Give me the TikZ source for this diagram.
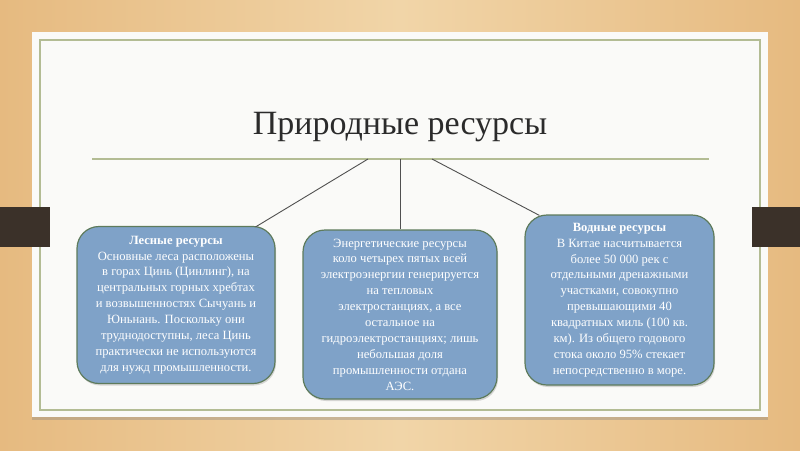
\documentclass[tikz,border=0pt]{standalone}
\usepackage{fontspec}
\setmainfont{Liberation Serif}
\usetikzlibrary{positioning, shadows}
\definecolor{Wood}{HTML}{E6BA80}
\definecolor{WoodLight}{HTML}{F1D5A8}
\definecolor{Paper}{HTML}{FAFAF8}
\definecolor{Olive}{HTML}{B3BC94}
\definecolor{Tab}{HTML}{3B3129}
\definecolor{Ink}{HTML}{2B2B2B}
\definecolor{BoxBlue}{HTML}{7FA2C8}
\definecolor{BoxEdge}{HTML}{5E7B5C}
\definecolor{Wire}{HTML}{505050}
\tikzset{
    resbox/.style={rectangle, rounded corners=22pt, fill=BoxBlue, draw=BoxEdge, line width=1.2pt, text=white, align=center, inner sep=0pt, font=\fontsize{12.6}{15.9}\selectfont, drop shadow={opacity=0.3, shadow xshift=1pt, shadow yshift=-2pt}},
    wire/.style={draw=Wire, line width=0.9pt},
    rule/.style={draw=Olive, line width=2pt},
}

\begin{document}
\begin{tikzpicture}[x=1pt, y=-1pt]
    % wooden table and sheet
    \shade[left color=Wood, right color=Wood, middle color=WoodLight] (0,0) rectangle (800,450);
    \fill[Paper, drop shadow={opacity=0.35, shadow xshift=0pt, shadow yshift=-3pt}] (32,32) rectangle (768,417);
    \draw[Olive, line width=1.5pt] (40,40) rectangle (760,410);
    \fill[Tab] (0,207) rectangle (50,247);
    \fill[Tab] (752,207) rectangle (800,247);

    \node[font=\fontsize{34}{34}\selectfont, text=Ink, anchor=base] (title) at (400,134) {Природные ресурсы};
    \coordinate (ruleL) at (92,159);
    \coordinate (ruleR) at (709,159);
    \draw[rule] (ruleL) -- (ruleR);
    \coordinate (hubL) at (368,159);
    \coordinate (hubM) at (400,159);
    \coordinate (hubR) at (432,159);

    \node[resbox, minimum width=198pt, minimum height=157pt] (forest) at (176,305)
        {\textbf{Лесные ресурсы}\\Основные леса расположены\\в горах Цинь (Цинлинг), на\\центральных горных хребтах\\и возвышенностях Сычуань и\\Юньнань. Поскольку они\\труднодоступны, леса Цинь\\практически не используются\\для нужд промышленности.};
    \node[resbox, minimum width=194pt, minimum height=169pt] (energy) at (400,314.5)
        {Энергетические ресурсы\\коло четырех пятых всей\\электроэнергии генерируется\\на тепловых\\электростанциях, а все\\остальное на\\гидроэлектростанциях; лишь\\небольшая доля\\промышленности отдана\\АЭС.};
    \node[resbox, minimum width=189pt, minimum height=170pt] (water) at (619.5,300)
        {\textbf{Водные ресурсы}\\В Китае насчитывается\\более 50 000 рек с\\отдельными дренажными\\участками, совокупно\\превышающими 40\\квадратных миль (100 кв.\\км). Из общего годового\\стока около 95\% стекает\\непосредственно в море.};

    \draw[wire] (hubL) -- ([xshift=-20pt, yshift=-1pt]forest.north east);
    \draw[wire] (hubM) -- (energy.north);
    \draw[wire] (hubR) -- ([xshift=15pt, yshift=-1pt]water.north west);
\end{tikzpicture}
\end{document}
